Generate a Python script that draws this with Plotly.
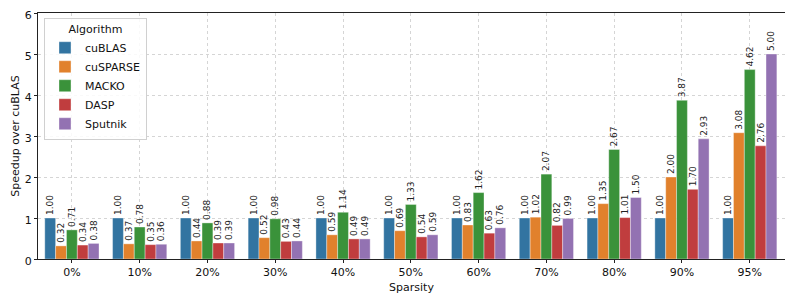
import plotly.graph_objects as go

categories = ["0%", "10%", "20%", "30%", "40%", "50%", "60%", "70%", "80%", "90%", "95%"]
algorithms = ["cuBLAS", "cuSPARSE", "MACKO", "DASP", "Sputnik"]
cublas = [1.00, 1.00, 1.00, 1.00, 1.00, 1.00, 1.00, 1.00, 1.00, 1.00, 1.00]
cusparse = [0.32, 0.37, 0.44, 0.52, 0.59, 0.69, 0.83, 1.02, 1.35, 2.00, 3.08]
macko = [0.71, 0.78, 0.88, 0.98, 1.14, 1.33, 1.62, 2.07, 2.67, 3.87, 4.62]
dasp = [0.34, 0.35, 0.39, 0.43, 0.49, 0.54, 0.63, 0.82, 1.01, 1.70, 2.76]
sputnik = [0.38, 0.36, 0.39, 0.44, 0.49, 0.59, 0.76, 0.99, 1.50, 2.93, 5.00]
colors = ["#3274a1", "#e1812c", "#3a923a", "#c03d3e", "#9372b2"]

series = [cublas, cusparse, macko, dasp, sputnik]
font = "DejaVu Sans, Liberation Sans, sans-serif"

fig = go.Figure()
for name, vals, col in zip(algorithms, series, colors):
    fig.add_trace(go.Bar(
        name=name, x=categories, y=vals,
        marker=dict(color=col, line=dict(color="rgba(255,255,255,0.6)", width=0.6)),
        text=[f"{v:.2f}" for v in vals],
        textposition="outside", textangle=-90,
        textfont=dict(size=9, color="#222", family=font),
        cliponaxis=False,
    ))

# page body adds an 8px offset, so the figure is sized to fill the rest of the window
fig.update_layout(
    width=785, height=294,
    margin=dict(l=30, r=8, t=5, b=43, autoexpand=False),
    paper_bgcolor="white", plot_bgcolor="white",
    barmode="group", bargap=0.2, bargroupgap=0,
    font=dict(family=font, size=11, color="#111"),
    legend=dict(
        x=0.008, y=0.98, xanchor="left", yanchor="top",
        bgcolor="rgba(255,255,255,0.85)", bordercolor="#d0d0d0", borderwidth=1,
        title=dict(text="Algorithm", side="top center", font=dict(size=11)),
        font=dict(size=11), tracegroupgap=0, itemwidth=30,
    ),
    showlegend=True,
)
fig.update_traces(constraintext="none")
fig.update_xaxes(
    title=dict(text="Sparsity", font=dict(size=11), standoff=5),
    automargin=False,
    showline=True, linecolor="#222", linewidth=1, mirror=True,
    ticks="outside", ticklen=3, tickcolor="#222",
    showgrid=True, gridcolor="#d5d5d5", griddash="dot", gridwidth=0.8,
    range=[-0.5, 10.52], tickfont=dict(size=11),
)
fig.update_yaxes(
    title=dict(text="Speedup over cuBLAS", font=dict(size=11), standoff=2),
    automargin=False, ticklabeloverflow="allow", ticklabelshift=2,
    showline=True, linecolor="#222", linewidth=1, mirror=True,
    ticks="outside", ticklen=3, tickcolor="#222",
    showgrid=True, gridcolor="#d5d5d5", griddash="dot", gridwidth=0.8,
    range=[0, 6], dtick=1, tickfont=dict(size=11), zeroline=False,
)

fig.write_html("out.html")
